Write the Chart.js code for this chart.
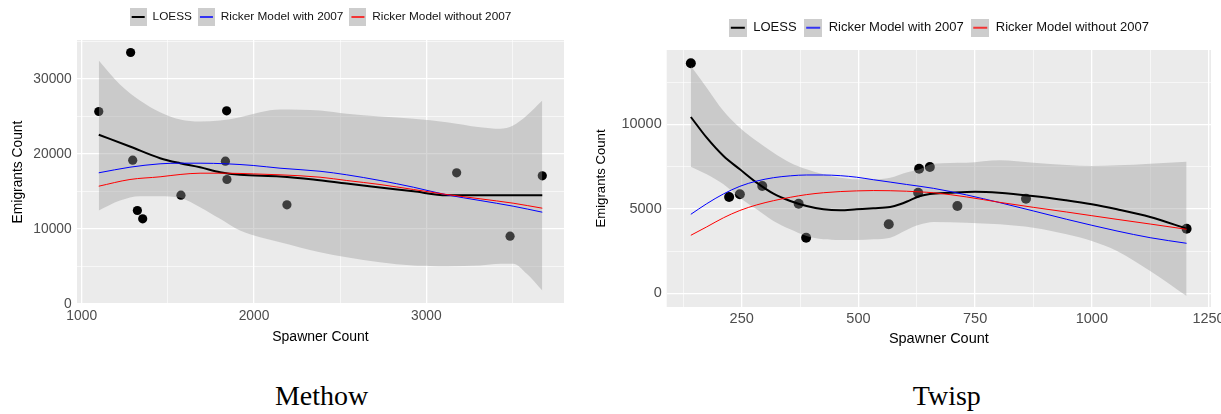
<!DOCTYPE html>
<html>
<head>
<meta charset="utf-8">
<script src="https://cdn.jsdelivr.net/npm/chart.js@4.4.1/dist/chart.umd.min.js"></script>
<style>
html, body { margin: 0; padding: 0; background: #fff; overflow: hidden; width: 1221px; height: 414px; }
#wrap { position: relative; width: 1221px; height: 414px; overflow: hidden; }
canvas { position: absolute; top: 1px; }
#methow { left: 0; }
#twisp { left: 590px; }
.cap { position: absolute; width: 200px; text-align: center; top: 381.5px;
  font-family: "Liberation Serif", "Times New Roman", serif; font-size: 28px; line-height: 28px; color: #000; }
</style>
</head>
<body>
<div id="wrap">
  <canvas id="methow" width="590" height="360" style="width:590px;height:360px"></canvas>
  <canvas id="twisp" width="660" height="360" style="width:660px;height:360px"></canvas>
  <div class="cap" style="left:221.6px">Methow</div>
  <div class="cap" style="left:846.8px">Twisp</div>
</div>
<script>
// ---------------- DATA ----------------
const legendLabels = ['LOESS', 'Ricker Model with 2007', 'Ricker Model without 2007'];

// Methow observations
const methowSpawners  = [1099, 1284, 1296, 1323, 1354, 1576, 1834, 1841, 1843, 2191, 3176, 3486, 3673];
const methowEmigrants = [25667, 33533, 19173, 12467, 11360, 14507, 19040, 25760, 16600, 13227, 17493, 9040, 17093];
// Methow LOESS fit
const methowLoessX = [1099, 1280, 1455, 1571, 1687, 1803, 1919, 2151, 2344, 2538, 2731, 2925, 3118, 3312, 3500, 3673];
const methowLoessY = [22560, 21000, 19440, 18773, 18240, 17573, 17227, 17000, 16600, 16060, 15543, 15027, 14507, 14507, 14507, 14507];
// Methow LOESS confidence band
const methowBandX     = [1099, 1222, 1338, 1455, 1571, 1687, 1803, 1919, 2035, 2151, 2383, 2538, 2731, 2925, 3118, 3312, 3428, 3504, 3583, 3673];
const methowBandUpper = [32467, 29267, 27133, 25573, 24600, 24333, 24467, 24907, 25573, 25933, 25800, 25360, 25000, 24693, 24240, 23573, 23360, 23800, 25133, 27133];
const methowBandLower = [12467, 13800, 14373, 14373, 14160, 12907, 11360, 9800, 8907, 8240, 6907, 6240, 5573, 5133, 5040, 5133, 5360, 5360, 4027, 1800];
// Methow Ricker curves
const methowCurveX        = [1099, 1280, 1455, 1571, 1687, 1841, 1996, 2151, 2383, 2538, 2731, 2925, 3118, 3312, 3504, 3673];
const methowRickerWith    = [17493, 18240, 18693, 18773, 18773, 18693, 18467, 18107, 17700, 17227, 16467, 15573, 14560, 13800, 13040, 12240];
const methowRickerWithout = [15707, 16600, 16960, 17267, 17440, 17440, 17350, 17227, 16907, 16467, 15933, 15267, 14600, 14027, 13440, 12773];
// Methow ticks
const methowXTicks = [1000, 1500, 2000, 2500, 3000, 3500];
const methowXLabels = [1000, 2000, 3000];
const methowYTicks = [0, 5000, 10000, 15000, 20000, 25000, 30000, 35000];
const methowYLabels = [0, 10000, 20000, 30000];

// Twisp observations
const twispSpawners  = [141, 223, 246, 294, 372, 388, 565, 628, 630, 653, 712, 859, 1203];
const twispEmigrants = [13609, 5698, 5858, 6349, 5302, 3290, 4083, 5953, 7373, 7473, 5166, 5598, 3822];
// Twisp LOESS fit
const twispLoessX = [141, 175, 211, 246, 282, 318, 354, 389, 425, 461, 496, 532, 568, 589, 610, 632, 653, 696, 750, 801, 873, 944, 1000, 1054, 1125, 1203];
const twispLoessY = [10432, 9207, 8124, 7337, 6545, 5893, 5462, 5166, 4970, 4911, 4970, 5030, 5107, 5266, 5500, 5757, 5880, 5953, 6012, 5953, 5757, 5502, 5266, 4970, 4515, 3822];
// Twisp LOESS confidence band
const twispBandX     = [141, 175, 211, 246, 282, 318, 354, 389, 425, 461, 496, 532, 568, 603, 630, 661, 732, 803, 875, 946, 1000, 1054, 1125, 1203];
const twispBandUpper = [13449, 12166, 10787, 9799, 9012, 8320, 7728, 7337, 7041, 6840, 6745, 6745, 6840, 7150, 7330, 7669, 7728, 7870, 7728, 7591, 7532, 7571, 7669, 7787];
const twispBandLower = [7491, 7041, 6450, 5656, 4970, 4278, 3787, 3390, 3195, 3154, 3154, 3195, 3290, 3750, 4050, 4219, 4177, 4083, 3882, 3491, 3095, 2503, 1320, -160];
// Twisp Ricker curves
const twispCurveX        = [141, 175, 211, 246, 282, 318, 354, 389, 425, 461, 496, 532, 568, 603, 632, 661, 732, 803, 875, 946, 1000, 1054, 1125, 1203];
const twispRickerWith    = [4674, 5300, 5880, 6330, 6640, 6840, 6950, 7000, 7000, 6960, 6870, 6720, 6580, 6440, 6330, 6210, 5818, 5364, 4871, 4379, 4024, 3686, 3290, 2959];
const twispRickerWithout = [3432, 3930, 4470, 4900, 5230, 5480, 5680, 5840, 5950, 6020, 6060, 6080, 6070, 6040, 6000, 5950, 5700, 5380, 5085, 4810, 4592, 4375, 4099, 3787];
// Twisp ticks
const twispXTicks = [125, 250, 375, 500, 625, 750, 875, 1000, 1125, 1250];
const twispXLabels = [250, 500, 750, 1000, 1250];
const twispYTicks = [0, 2500, 5000, 7500, 10000, 12500];
const twispYLabels = [0, 5000, 10000];

// ---------------- RENDERING ----------------
const FONT = "'Liberation Sans', Arial, Helvetica, sans-serif";
Chart.defaults.font.family = FONT;

function zip(xs, ys) { return xs.map((x, i) => ({ x: x, y: ys[i] })); }

function keyIcon(color, lw, w, h) {
  const c = document.createElement('canvas');
  c.width = w; c.height = h;
  const g = c.getContext('2d');
  g.fillStyle = '#CDCDCD';
  g.fillRect(0, 0, w, h);
  g.strokeStyle = color;
  g.lineWidth = lw;
  g.beginPath();
  g.moveTo(Math.round(w * 0.12), h / 2);
  g.lineTo(Math.round(w * 0.88), h / 2);
  g.stroke();
  return c;
}

const panelBg = {
  id: 'panelBg',
  beforeDraw(chart) {
    const a = chart.chartArea, ctx = chart.ctx;
    ctx.save();
    ctx.fillStyle = '#EBEBEB';
    ctx.fillRect(a.left, a.top, a.right - a.left, a.bottom - a.top);
    ctx.restore();
  }
};

function build(id, d, g) {
  const lineColors = ['#000000', '#0000FF', '#FF0000'];
  const lineWidths = [2, 1, 1];
  const keyLW = [2, 1.5, 1.5];
  const icons = lineColors.map((c, i) => keyIcon(c, keyLW[i], g.keyW, g.keyH));

  const datasets = [
    { type: 'line', label: legendLabels[0], data: zip(d.loessX, d.loessY), borderColor: lineColors[0],
      borderWidth: lineWidths[0], pointRadius: 0, fill: false, cubicInterpolationMode: 'monotone', order: 3 },
    { type: 'line', label: legendLabels[1], data: zip(d.curveX, d.rickerWith), borderColor: lineColors[1],
      borderWidth: lineWidths[1], pointRadius: 0, fill: false, cubicInterpolationMode: 'monotone', order: 2 },
    { type: 'line', label: legendLabels[2], data: zip(d.curveX, d.rickerWithout), borderColor: lineColors[2],
      borderWidth: lineWidths[2], pointRadius: 0, fill: false, cubicInterpolationMode: 'monotone', order: 1 },
    { type: 'scatter', label: 'Observed', data: zip(d.spawners, d.emigrants), backgroundColor: '#000000',
      borderWidth: 0, pointRadius: g.r, order: 10 },
    { type: 'line', label: 'LOESS upper', data: zip(d.bandX, d.bandUpper), borderColor: 'rgba(0,0,0,0)',
      borderWidth: 0, pointRadius: 0, fill: false, cubicInterpolationMode: 'monotone', order: 6 },
    { type: 'line', label: 'LOESS lower', data: zip(d.bandX, d.bandLower), borderColor: 'rgba(0,0,0,0)',
      backgroundColor: 'rgba(153,153,153,0.4)', borderWidth: 0, pointRadius: 0, fill: '-1',
      cubicInterpolationMode: 'monotone', order: 5 }
  ];

  return new Chart(document.getElementById(id), {
    type: 'line',
    data: { datasets: datasets },
    plugins: [panelBg],
    options: {
      responsive: false,
      animation: false,
      events: [],
      layout: { padding: { top: g.padT, left: 0, right: g.padR, bottom: 0 } },
      plugins: {
        tooltip: { enabled: false },
        legend: {
          display: true, position: 'top', align: 'center', fullSize: false,
          labels: {
            usePointStyle: true, pointStyleWidth: g.keyW, padding: g.legPad,
            color: '#111111', font: { size: g.legSize },
            generateLabels: () => legendLabels.map((t, i) => ({
              text: t, pointStyle: icons[i], datasetIndex: i, hidden: false,
              fillStyle: 'rgba(0,0,0,0)', strokeStyle: 'rgba(0,0,0,0)', lineWidth: 0, fontColor: '#111111'
            }))
          }
        },
        subtitle: {
          display: true, text: '', position: 'top', weight: 500,
          font: { size: 1, lineHeight: 1 }, padding: { top: 0, bottom: g.spacer - 1 }
        }
      },
      scales: {
        x: {
          type: 'linear', position: 'bottom', min: g.xMin, max: g.xMax,
          afterBuildTicks: s => { s.ticks = d.xTicks.map(v => ({ value: v })); },
          afterFit: s => { s.height = g.xAxisH; },
          border: { display: false },
          grid: { color: '#FFFFFF', drawTicks: false,
            lineWidth: c => (c.tick && d.xLabels.includes(c.tick.value)) ? 1.3 : 0.6 },
          ticks: { autoSkip: false, maxRotation: 0, minRotation: 0, padding: g.xTickPad, color: '#4D4D4D',
            font: { size: g.tickSize }, callback: v => d.xLabels.includes(v) ? String(v) : '' },
          title: { display: true, text: 'Spawner Count', color: '#000000', font: { size: g.xTitleSize },
            padding: { top: 0, bottom: g.xTitlePadB } }
        },
        y: {
          type: 'linear', position: 'left', min: g.yMin, max: g.yMax,
          afterBuildTicks: s => { s.ticks = d.yTicks.map(v => ({ value: v })); },
          afterFit: s => { s.width = g.yAxisW; },
          border: { display: false },
          grid: { color: '#FFFFFF', drawTicks: false,
            lineWidth: c => (c.tick && d.yLabels.includes(c.tick.value)) ? 1.3 : 0.6 },
          ticks: { autoSkip: false, padding: g.yTickPad, color: '#4D4D4D',
            font: { size: g.tickSize }, callback: v => d.yLabels.includes(v) ? String(v) : '' },
          title: { display: true, text: 'Emigrants Count', color: '#000000', font: { size: g.yTitleSize },
            padding: { top: g.yTitlePadT, bottom: 0 } }
        }
      }
    }
  });
}

build('methow', {
  spawners: methowSpawners, emigrants: methowEmigrants,
  loessX: methowLoessX, loessY: methowLoessY,
  bandX: methowBandX, bandUpper: methowBandUpper, bandLower: methowBandLower,
  curveX: methowCurveX, rickerWith: methowRickerWith, rickerWithout: methowRickerWithout,
  xTicks: methowXTicks, xLabels: methowXLabels, yTicks: methowYTicks, yLabels: methowYLabels
}, {
  xMin: 972.7, xMax: 3799, yMin: 0, yMax: 35200,
  yAxisW: 77, xAxisH: 57, padT: 4.1, padR: 26, spacer: 7.1,
  legSize: 11.8, legPad: 6, keyW: 17, keyH: 18,
  tickSize: 13.8, xTickPad: 3.5, yTickPad: 5.3,
  xTitleSize: 14, yTitleSize: 13.8, xTitlePadB: 15.6, yTitlePadT: 10, r: 4.6
});

build('twisp', {
  spawners: twispSpawners, emigrants: twispEmigrants,
  loessX: twispLoessX, loessY: twispLoessY,
  bandX: twispBandX, bandUpper: twispBandUpper, bandLower: twispBandLower,
  curveX: twispCurveX, rickerWith: twispRickerWith, rickerWithout: twispRickerWithout,
  xTicks: twispXTicks, xLabels: twispXLabels, yTicks: twispYTicks, yLabels: twispYLabels
}, {
  xMin: 89.3, xMax: 1255.3, yMin: -811, yMax: 14396,
  yAxisW: 76.7, xAxisH: 54, padT: 12.7, padR: 39, spacer: 5.8,
  legSize: 13, legPad: 7.5, keyW: 18, keyH: 18,
  tickSize: 14.5, xTickPad: 3.6, yTickPad: 5,
  xTitleSize: 14.5, yTitleSize: 13.2, xTitlePadB: 13, yTitlePadT: 3.8, r: 5
});
</script>
</body>
</html>
